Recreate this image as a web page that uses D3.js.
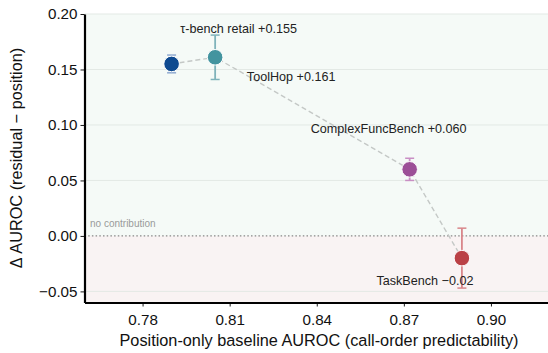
<!DOCTYPE html>
<html><head><meta charset="utf-8">
<script src="https://cdn.jsdelivr.net/npm/d3@7"></script>
<style>html,body{margin:0;padding:0;background:#fff;}svg{display:block;font-family:"Liberation Sans",Arial,Helvetica,sans-serif;}</style>
</head><body>
<svg id="c" width="548" height="353"></svg>
<script>
// Data
const benchmarks = ["τ-bench retail", "ToolHop", "ComplexFuncBench", "TaskBench"];
const baselineAUROC = [0.790, 0.805, 0.872, 0.890];
const deltaAUROC = [0.155, 0.161, 0.060, -0.020];
const errAUROC = [0.008, 0.020, 0.010, 0.027];
const labelTexts = ["τ-bench retail +0.155", "ToolHop +0.161", "ComplexFuncBench +0.060", "TaskBench −0.02"];
const xTicks = [0.78, 0.81, 0.84, 0.87, 0.90];
const yTicks = [-0.05, 0.00, 0.05, 0.10, 0.15, 0.20];

// Style
const colors = ["#0e4a90", "#43949f", "#9c4f97", "#ba4146"];
const errColors = ["#8fa9cf", "#7fb3bb", "#c98fc4", "#d9868a"];
const labelOffsets = [[67, -35], [76, 19], [-21, -41], [-37, 22]];

const svg = d3.select("#c");
const x = d3.scaleLinear().domain([0.76, 0.92]).range([84.5, 549]);
const y = d3.scaleLinear().domain([-0.06, 0.20]).range([302.5, 14]);

const [x0, x1] = x.range();
// backgrounds
svg.append("rect").attr("x", x0).attr("y", y(0.20)).attr("width", x1 - x0).attr("height", y(0) - y(0.20)).attr("fill", "#f5faf7");
svg.append("rect").attr("x", x0).attr("y", y(0)).attr("width", x1 - x0).attr("height", y(-0.06) - y(0)).attr("fill", "#f9f3f3");

// gridlines
svg.append("g").selectAll("line").data(yTicks.filter(d => d !== 0)).join("line")
  .attr("x1", x0).attr("x2", x1).attr("y1", d => y(d)).attr("y2", d => y(d))
  .attr("stroke", "#e3e9e5").attr("stroke-width", 1);

// zero line
svg.append("line").attr("x1", x0).attr("x2", x1).attr("y1", y(0)).attr("y2", y(0))
  .attr("stroke", "#888").attr("stroke-width", 1.1).attr("stroke-dasharray", "1.5,2.2");
svg.append("text").attr("x", 90).attr("y", y(0) - 9).attr("font-size", 10).attr("fill", "#9a9a9a").text("no contribution");

// connecting dashed line
const line = d3.line().x(i => x(baselineAUROC[i])).y(i => y(deltaAUROC[i]));
svg.append("path").attr("d", line(d3.range(benchmarks.length))).attr("fill", "none")
  .attr("stroke", "#c4c8c6").attr("stroke-width", 1.4).attr("stroke-dasharray", "5,3");

// error bars
const eb = svg.append("g");
benchmarks.forEach((b, i) => {
  const cx = x(baselineAUROC[i]);
  const top = y(deltaAUROC[i] + errAUROC[i]), bot = y(deltaAUROC[i] - errAUROC[i]);
  eb.append("line").attr("x1", cx).attr("x2", cx).attr("y1", top).attr("y2", bot).attr("stroke", errColors[i]).attr("stroke-width", 1.8);
  [top, bot].forEach(yy => eb.append("line").attr("x1", cx - 4.5).attr("x2", cx + 4.5).attr("y1", yy).attr("y2", yy).attr("stroke", errColors[i]).attr("stroke-width", 1.5));
});

// points
svg.append("g").selectAll("circle").data(d3.range(benchmarks.length)).join("circle")
  .attr("cx", i => x(baselineAUROC[i])).attr("cy", i => y(deltaAUROC[i])).attr("r", 7.8)
  .attr("fill", i => colors[i]).attr("stroke", "#fff").attr("stroke-width", 1);

// labels
svg.append("g").selectAll("text").data(d3.range(benchmarks.length)).join("text")
  .attr("x", i => x(baselineAUROC[i]) + labelOffsets[i][0])
  .attr("y", i => y(deltaAUROC[i]) + labelOffsets[i][1])
  .attr("dy", "0.35em").attr("text-anchor", "middle").attr("font-size", 12.6).attr("fill", "#222")
  .text(i => labelTexts[i]);

// axes
const xAxis = svg.append("g").attr("transform", `translate(0,${y(-0.06)})`)
  .call(d3.axisBottom(x).tickValues(xTicks).tickFormat(d3.format(".2f")).tickSize(4).tickSizeOuter(0));
const yAxis = svg.append("g").attr("transform", `translate(${x0},0)`)
  .call(d3.axisLeft(y).tickValues(yTicks).tickFormat(d => d3.format(".2f")(d).replace("-", "−")).tickSize(4).tickSizeOuter(0));
[xAxis, yAxis].forEach(g => {
  g.select(".domain").attr("stroke", "#000").attr("stroke-width", 2.2);
  g.selectAll(".tick line").attr("stroke", "#000").attr("stroke-width", 0.9);
  g.selectAll(".tick text").attr("font-size", 15.2).attr("fill", "#111").attr("font-family", "Liberation Sans, Arial, sans-serif");
});
xAxis.selectAll(".tick text").attr("dy", "1.05em");

svg.append("text").attr("x", 319).attr("y", 346).attr("text-anchor", "middle").attr("font-size", 16.3).attr("fill", "#111")
  .text("Position-only baseline AUROC (call-order predictability)");
svg.append("text").attr("transform", `translate(21.5,158) rotate(-90)`).attr("text-anchor", "middle").attr("font-size", 16.3).attr("fill", "#111")
  .text("Δ AUROC (residual − position)");
</script>
</body></html>
